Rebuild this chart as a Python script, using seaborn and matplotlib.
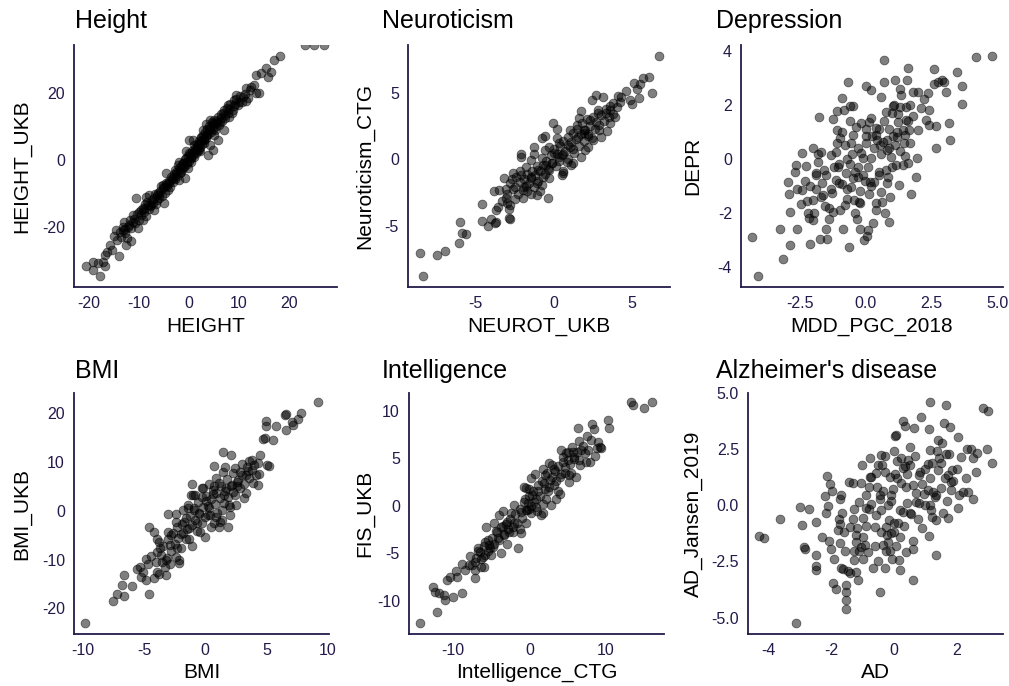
import numpy as np
import pandas as pd
import seaborn as sns
import matplotlib.pyplot as plt
from matplotlib.ticker import FormatStrFormatter

sns.set_style("white")
plt.rcParams['font.family'] = ['Liberation Sans', 'DejaVu Sans']
plt.rcParams['axes.unicode_minus'] = False

# titles and axis labels, panel order: row by row
titles = ["Height", "Neuroticism", "Depression", "BMI", "Intelligence", "Alzheimer's disease"]
x_labels = ["HEIGHT", "NEUROT_UKB", "MDD_PGC_2018", "BMI", "Intelligence_CTG", "AD"]
y_labels = ["HEIGHT_UKB", "Neuroticism_CTG", "DEPR", "BMI_UKB", "FIS_UKB", "AD_Jansen_2019"]

x_ticks = [[-20, -10, 0, 10, 20], [-5, 0, 5], [-2.5, 0, 2.5, 5], [-10, -5, 0, 5, 10], [-10, 0, 10], [-4, -2, 0, 2]]
y_ticks = [[-20, 0, 20], [-5, 0, 5], [-4, -2, 0, 2, 4], [-20, -10, 0, 10, 20], [-10, -5, 0, 5, 10], [-5, -2.5, 0, 2.5, 5]]
x_lims = [(-23.0, 29.6), (-9.34, 7.42), (-4.74, 5.22), (-10.7, 10.1), (-15.8, 17.65), (-4.65, 3.47)]
y_lims = [(-37.9, 34.3), (-9.58, 8.57), (-4.73, 4.21), (-25.3, 24.2), (-13.5, 11.86), (-5.73, 5.0)]

# scatter points (x, y)
height_pts = [
    (-20.7, -31.6), (-19.2, -30.3), (-19.1, -32.8), (-17.7, -34.6), (-18.2, -30.8), (-17.2, -30.3),
    (-16.9, -31.6), (-16.7, -28.4), (-15.3, -26.9), (-14.0, -28.7), (-14.9, -22.7), (-14.5, -20.9),
    (-13.5, -22.9), (-12.9, -18.4), (-12.5, -25.4), (-11.5, -24.1), (-13.2, -19.9), (-12.2, -19.9),
    (-11.2, -16.4), (-10.2, -20.4), (-10.5, -11.4), (-9.9, -15.4), (-9.2, -17.9), (-8.9, -15.4),
    (-8.5, -10.9), (-7.9, -10.4), (-7.5, -13.4), (-6.9, -14.9), (-6.4, -11.9), (-5.9, -10.4),
    (-5.5, -7.9), (-4.9, -12.9), (-5.2, -7.5), (-4.5, -4.0), (-4.2, -8.9), (-3.9, -7.0),
    (-3.2, -5.5), (-2.7, -3.0), (-2.2, -1.5), (-1.9, -0.5), (-1.5, -3.5), (-1.2, -1.0),
    (-0.7, -5.5), (-0.5, 0.5), (-0.2, -2.5), (0.1, 2.0), (0.5, -0.5), (1.1, 1.0),
    (0.0, 6.0), (0.8, 6.0), (1.8, 4.5), (2.1, 3.0), (2.5, 6.5), (2.8, 9.0),
    (3.1, 5.0), (3.8, 1.5), (4.2, 4.5), (4.8, 3.0), (5.0, 7.5), (4.2, 12.0),
    (4.8, 11.0), (5.5, 10.0), (5.8, 6.0), (6.5, 12.4), (7.1, 9.0), (6.8, 13.9),
    (7.8, 16.4), (8.1, 12.9), (8.8, 14.9), (9.1, 17.9), (9.5, 19.4), (10.1, 17.4),
    (10.8, 18.9), (11.5, 17.7), (11.5, 21.4), (12.5, 21.9), (13.1, 22.4), (13.5, 19.9),
    (14.1, 20.1), (13.5, 25.4), (14.5, 25.9), (15.5, 27.4), (15.8, 24.9), (16.5, 26.1),
    (17.1, 29.9), (18.3, 31.0), (23.3, 34.3), (25.1, 34.3), (27.1, 34.3),
    (-13.8, -21.5), (-13.2, -20.8), (-12.8, -21.9), (-12.1, -19.5), (-11.8, -18.0), (-11.5, -20.2),
    (-11.0, -17.5), (-10.8, -18.9), (-10.4, -16.2), (-10.1, -17.8), (-9.7, -15.0), (-9.5, -16.5),
    (-9.2, -14.2), (-8.8, -13.1), (-8.6, -16.8), (-8.3, -12.5), (-8.0, -14.6), (-7.7, -13.6),
    (-7.4, -11.8), (-7.2, -12.9), (-6.8, -10.2), (-6.6, -13.0), (-6.2, -9.8), (-6.0, -11.4),
    (-5.7, -9.2), (-5.4, -10.8), (-5.1, -8.5), (-4.8, -9.9), (-4.6, -6.8), (-4.3, -7.7),
    (-4.0, -6.2), (-3.7, -8.1), (-3.5, -5.0), (-3.2, -6.7), (-3.0, -4.2), (-2.8, -5.8),
    (-2.5, -3.5), (-2.3, -4.8), (-2.0, -2.5), (-1.8, -3.9), (-1.6, -1.9), (-1.3, -2.8),
    (-1.1, -0.9), (-0.9, -2.2), (-0.7, 0.3), (-0.4, -1.3), (-0.2, 1.2), (0.0, -0.4),
    (0.3, 1.9), (0.5, 0.6), (0.7, 2.8), (0.9, 1.5), (1.2, 3.6), (1.4, 2.2),
    (1.6, 4.9), (1.8, 3.1), (2.0, 5.6), (2.2, 4.0), (2.4, 6.8), (2.6, 4.9),
    (2.9, 7.4), (3.1, 5.9), (3.3, 8.3), (3.5, 6.6), (3.7, 9.1), (3.9, 7.6),
    (4.1, 10.0), (4.4, 8.4), (4.6, 11.2), (4.9, 9.2), (5.1, 12.0), (5.3, 8.9),
    (5.6, 11.0), (5.9, 12.9), (6.1, 10.5), (6.4, 13.8), (6.7, 11.7), (7.0, 14.8),
    (7.3, 12.6), (7.6, 15.5), (7.9, 14.0), (8.3, 16.6), (8.6, 14.1), (9.0, 16.0),
    (9.4, 18.2), (9.8, 16.4), (10.3, 19.0), (10.7, 17.2), (11.2, 19.6), (11.8, 18.6),
    (12.2, 20.8), (-14.3, -24.0), (-15.8, -25.4), (-16.3, -27.6), (-12.4, -23.3), (1.0, 4.5),
    (2.3, 2.6), (-0.5, 2.8), (3.5, 10.6), (-2.0, -6.0),
    (-9.0, -14.5), (-8.2, -13.4), (-7.0, -11.3), (-6.3, -10.6), (-5.0, -8.0), (-4.4, -7.2),
    (-3.4, -5.8), (-2.6, -4.1), (-1.7, -2.9), (-1.0, -1.8), (-0.3, -0.7), (0.4, 0.9),
    (1.1, 2.3), (1.7, 3.7), (2.3, 5.2), (3.0, 6.2), (3.6, 7.8), (4.3, 9.6),
    (5.0, 10.6), (5.7, 11.5), (6.3, 11.4), (7.2, 13.5), (8.0, 15.2), (9.2, 16.8),
    (-11.2, -18.6), (-12.7, -20.6), (2.7, 6.0), (3.4, 7.1), (4.0, 8.9), (1.4, 3.3),
]

neurot_pts = [
    (-8.4, -8.75), (-8.6, -7.05), (-7.5, -7.2), (-7.0, -6.85), (-6.1, -6.3), (-6.0, -4.7),
    (-5.9, -5.5), (-5.6, -5.6), (-4.6, -3.35), (-4.6, -4.6), (-4.2, -5.0), (-4.0, -4.5),
    (-3.8, -4.8), (-3.7, -4.7), (-3.7, -3.8), (-3.6, -3.55), (-3.85, -2.4), (-3.2, -1.4),
    (-3.1, -2.2), (-3.1, -2.9), (-3.0, -3.3), (-2.9, -3.7), (-2.9, -4.4), (-2.8, -4.5),
    (-2.8, -1.8), (-2.6, -1.05), (-2.5, -2.05), (-2.4, -1.3), (-2.2, -0.9), (-2.1, 0.4),
    (-2.1, 0.2), (-2.0, -2.9), (-1.95, -2.05), (-1.75, -2.4), (-1.5, -1.3), (-1.5, -0.05),
    (-1.3, 0.4), (-1.25, 0.9), (-1.1, -2.7), (-1.1, -1.8), (-1.0, -0.8), (-0.8, 1.6),
    (-0.6, 1.75), (-0.8, 0.1), (-0.7, -1.3), (-0.5, -0.4), (-0.4, -2.9), (-0.3, -0.8),
    (-0.15, -0.3), (-0.05, 2.7), (0.0, 0.45), (0.2, 2.25), (0.3, 1.2), (0.3, 0.2),
    (0.5, -1.2), (0.6, -1.05), (0.6, 0.4), (0.9, 1.1), (1.0, 2.2), (1.1, -0.4),
    (1.2, 0.8), (1.45, 2.6), (1.55, 1.65), (1.7, 3.6), (1.75, 0.2), (1.9, 2.2),
    (2.0, 0.7), (2.15, 1.75), (2.3, 2.95), (2.4, 4.45), (2.5, 1.45), (2.7, 4.8),
    (2.8, 3.7), (2.9, 2.2), (3.0, 1.7), (3.15, 4.7), (3.3, 3.45), (3.4, 2.1),
    (3.6, 2.7), (3.6, 3.7), (3.8, 4.2), (3.9, 3.15), (4.1, 4.75), (4.3, 4.7),
    (4.6, 5.15), (4.85, 4.45), (5.0, 4.15), (5.1, 5.75), (5.3, 5.25), (5.45, 4.6),
    (5.5, 5.65), (5.7, 6.1), (6.1, 6.15), (6.3, 5.0), (6.7, 7.75),
    (-3.3, -3.1), (-3.0, -2.6), (-2.8, -3.4), (-2.6, -2.2), (-2.5, -3.0), (-2.3, -2.6),
    (-2.2, -1.7), (-2.0, -2.3), (-1.9, -1.5), (-1.8, -2.0), (-1.7, -1.1), (-1.6, -1.8),
    (-1.5, -1.4), (-1.4, -0.9), (-1.3, -2.1), (-1.2, -1.2), (-1.1, -0.5), (-1.0, -1.6),
    (-0.9, -0.9), (-0.8, -1.9), (-0.7, -0.4), (-0.6, -1.1), (-0.5, -0.1), (-0.4, -0.7),
    (-0.3, -1.4), (-0.2, 0.3), (-0.1, -0.3), (0.0, 0.8), (0.1, -0.5), (0.2, 0.4),
    (0.3, -0.1), (0.4, 1.0), (0.5, 0.3), (0.6, 1.4), (0.7, 0.6), (0.8, -0.2),
    (0.9, 1.7), (1.0, 0.9), (1.1, 1.3), (1.2, 2.0), (1.3, 0.5), (1.4, 1.5),
    (1.5, 2.3), (1.6, 1.0), (1.7, 1.9), (1.8, 2.7), (1.9, 1.4), (2.0, 2.2),
    (2.1, 3.0), (2.2, 1.9), (2.3, 2.5), (2.4, 1.6), (2.5, 3.2), (2.6, 2.3),
    (2.7, 2.8), (2.8, 3.5), (2.9, 2.6), (3.0, 3.3), (3.2, 2.9), (3.3, 3.8),
    (3.5, 3.2), (3.6, 4.0), (3.8, 3.4), (4.0, 3.9), (4.2, 4.3), (-1.5, -2.6),
    (-0.9, -2.4), (-2.1, -1.2), (0.6, -0.9), (1.2, -0.3), (-0.3, 0.9), (0.2, 1.6),
    (-1.8, -0.6), (2.2, 0.9), (1.6, 3.1), (-2.7, -1.5), (-3.5, -2.3), (-0.6, 0.7),
    (0.9, 0.0), (1.9, 2.0),
]

depr_pts = [
    (-4.31, -2.9), (-4.1, -4.33), (-3.24, -2.58), (-3.14, -3.69), (-2.96, -0.86), (-2.93, -1.3),
    (-2.89, -1.95), (-2.89, -3.19), (-2.66, -0.22), (-2.63, -2.6), (-2.47, -1.67), (-2.44, 0.21),
    (-2.44, -1.15), (-2.28, -0.26), (-2.22, -1.54), (-2.16, -2.17), (-2.1, -3.15), (-2.0, 0.4),
    (-2.0, -2.24), (-1.97, -1.99), (-1.9, -1.12), (-1.9, -0.53), (-1.81, -0.1), (-1.78, 1.54),
    (-1.74, -2.94), (-1.71, 0.27), (-1.65, -0.88), (-1.61, -1.33), (-1.56, -1.74), (-1.46, -2.94),
    (-1.4, -1.83), (-1.33, 0.15), (-1.27, -1.25), (-1.23, 1.47), (-1.23, -1.95), (-1.14, 0.27),
    (-1.14, -0.78), (-1.1, 1.79), (-1.08, 1.07), (-1.05, -0.28), (-0.98, 0.77), (-0.98, -1.89),
    (-0.89, 2.25), (-0.89, -0.93), (-0.85, -2.57), (-0.82, 1.82), (-0.8, 0.52), (-0.76, -0.53),
    (-0.7, -1.49), (-0.7, -0.01), (-0.66, 2.86), (-0.63, -3.25), (-0.6, 1.94), (-0.57, 0.6),
    (-0.55, -1.02), (-0.51, 0.19), (-0.47, 1.96), (-0.44, -1.52), (-0.42, -0.47), (-0.38, 1.17),
    (-0.34, -2.23), (-0.29, -0.65), (-0.25, -1.58), (-0.22, -1.64), (-0.19, 0.21), (-0.19, 1.32),
    (-0.09, 0.02), (-0.06, -3.0), (-0.04, -0.8), (0.0, 2.7), (0.03, 0.83), (0.06, -2.85),
    (0.09, -2.63), (0.13, 1.38), (0.13, -1.3), (0.16, -0.84), (0.19, 2.53), (0.22, 0.02),
    (0.25, 0.85), (0.29, -2.36), (0.32, -0.84), (0.38, 1.14), (0.38, -1.64), (0.44, 0.7),
    (0.51, -0.47), (0.55, 0.52), (0.57, -1.21), (0.63, -1.58), (0.67, 0.64), (0.7, 3.67),
    (0.7, 2.86), (0.72, -1.99), (0.76, 1.72), (0.76, -0.41), (0.8, 0.33), (0.85, -0.65),
    (0.89, -2.32), (0.93, -1.4), (0.95, 0.09), (1.02, 0.85), (1.05, 1.96), (1.08, 2.0),
    (1.12, 2.9), (1.14, -0.22), (1.18, 0.8), (1.21, 1.67), (1.24, 1.38), (1.27, -0.96),
    (1.31, 1.91), (1.33, 2.37), (1.4, 1.07), (1.4, -0.22), (1.46, 0.58), (1.48, 0.11),
    (1.52, 1.44), (1.52, 1.91), (1.56, 2.9), (1.59, 3.36), (1.61, -0.16), (1.65, 1.07),
    (1.69, 2.0), (1.71, -1.3), (1.78, 2.49), (1.9, -0.65), (1.94, 0.02), (1.97, 2.46),
    (1.99, 1.07), (2.28, 1.44), (2.35, 2.43), (2.41, 1.81), (2.41, 1.26), (2.58, 3.32),
    (2.58, 2.78), (2.66, 0.4), (2.66, 1.2), (2.73, 2.86), (2.92, 2.93), (2.98, 2.86),
    (3.05, 2.49), (3.17, 1.32), (3.21, 0.7), (3.49, 3.2), (3.65, 2.04), (3.68, 2.68),
    (4.19, 3.77), (4.82, 3.81),
    (-1.5, -0.6), (-1.0, -0.9), (-0.6, -0.2), (-0.3, 0.4), (0.1, -0.3), (0.4, 0.9),
    (0.6, 0.2), (0.9, 1.1), (1.1, 0.5), (1.3, 0.3), (-1.7, -1.4), (-0.8, -1.7),
    (-0.2, -1.2), (0.5, -0.6), (0.2, 1.5), (-1.2, -0.3), (-2.3, -0.8), (-1.9, -0.6),
    (-0.4, -2.0), (0.8, -0.9), (1.7, 0.6), (2.1, 1.9), (-0.9, 1.0), (-1.4, -2.2),
    (0.0, 0.6), (0.7, 1.4), (-0.5, 0.9), (1.0, 1.7), (-2.6, -1.1), (-1.8, 0.2),
    (-2.1, -1.0), (-1.6, -0.4), (-1.3, -1.1), (-1.0, -0.2), (-0.7, -1.1), (-0.5, -0.7),
    (-0.1, -0.6), (0.3, 0.4), (0.5, 1.1), (0.8, 0.7), (1.0, -0.3), (1.2, 1.0),
    (1.5, 0.9), (1.8, 1.6), (0.0, 1.1), (-0.3, -0.3), (-2.2, -2.0), (-1.5, -2.6),
    (-0.2, -2.6), (0.4, -1.9), (-2.7, -0.5), (-1.1, 0.6), (0.6, 2.3), (1.3, 2.6),
    (2.2, 2.2), (-0.6, 1.4), (-2.0, -1.5), (0.2, -1.0), (1.6, 1.4), (0.9, 0.4),
]

bmi_pts = [
    (-9.8, -23.0), (-7.55, -18.6), (-7.2, -17.0), (-6.65, -17.5), (-6.6, -13.2), (-6.8, -15.3),
    (-6.0, -15.5), (-4.6, -17.1), (-5.3, -11.6), (-5.1, -12.5), (-4.85, -9.8), (-4.8, -14.2),
    (-4.6, -3.3), (-4.2, -4.3), (-4.15, -13.8), (-3.95, -5.7), (-3.9, -8.4), (-3.75, -12.9),
    (-3.7, -7.6), (-3.5, -10.5), (-3.3, -11.5), (-3.2, -13.2), (-3.1, -9.7), (-3.05, -4.3),
    (-3.0, -0.75), (-2.9, -7.1), (-2.8, -5.0), (-2.4, -0.75), (-2.4, -2.3), (-2.3, -7.7),
    (-2.15, -10.8), (-2.1, -10.1), (-1.95, -4.7), (-1.8, 0.15), (-1.7, -2.3), (-1.6, -5.7),
    (-1.4, 1.15), (-1.3, -3.6), (-1.15, 3.2), (-1.05, 5.6), (-1.05, -7.2), (-0.95, 0.15),
    (-0.8, 3.2), (-0.7, -2.6), (-0.5, -0.5), (-0.4, -4.3), (-0.3, 4.6), (-0.25, 2.9),
    (-0.2, 4.6), (-0.05, -5.3), (0.1, 2.0), (0.2, -0.9), (0.35, 0.5), (0.5, -3.3),
    (0.6, 3.4), (0.7, 5.1), (0.75, 9.2), (0.85, -1.2), (0.9, 6.8), (1.1, -3.3),
    (1.15, 5.8), (1.2, -2.3), (1.4, 0.15), (1.45, 8.0), (1.45, 12.0), (1.5, 3.2),
    (1.65, 9.0), (1.7, 4.6), (1.85, -3.3), (1.95, 1.15), (2.05, -0.9), (2.1, 11.4),
    (2.2, 5.4), (2.25, 3.9), (2.4, 8.8), (2.55, 1.15), (2.6, 5.1), (2.65, 6.3),
    (2.8, 8.0), (3.0, 9.7), (3.2, 2.7), (3.3, 7.3), (3.5, 8.2), (3.6, 10.2),
    (3.85, 10.4), (3.9, 5.8), (4.0, 9.4), (4.15, 7.3), (4.3, 5.4), (4.4, 7.5),
    (4.5, 11.4), (4.7, 14.7), (4.85, 15.0), (4.95, 17.5), (5.0, 18.4), (5.05, 9.4),
    (5.2, 9.2), (5.5, 14.5), (5.8, 17.5), (6.5, 19.7), (6.6, 19.8), (6.6, 16.6),
    (7.1, 18.2), (7.2, 17.6), (7.6, 18.8), (7.85, 20.0), (9.2, 22.3),
    (-4.4, -9.2), (-4.0, -10.6), (-3.8, -6.5), (-3.6, -9.0), (-3.4, -7.2), (-3.2, -10.0),
    (-3.0, -5.8), (-2.8, -8.2), (-2.6, -4.6), (-2.5, -6.8), (-2.3, -3.4), (-2.2, -5.6),
    (-2.0, -7.6), (-1.9, -2.8), (-1.8, -4.5), (-1.6, -1.5), (-1.5, -3.8), (-1.3, -5.8),
    (-1.2, -1.0), (-1.1, -2.9), (-0.9, 0.6), (-0.8, -1.8), (-0.7, -4.2), (-0.6, 1.9),
    (-0.5, -0.6), (-0.3, -2.4), (-0.2, 0.8), (0.0, -1.2), (0.1, 3.1), (0.2, 1.0),
    (0.4, -0.8), (0.5, 2.5), (0.6, 4.3), (0.8, 1.4), (0.9, 3.6), (1.0, -0.5),
    (1.2, 2.6), (1.3, 5.2), (1.5, 1.6), (1.6, 4.0), (1.8, 6.5), (1.9, 2.8),
    (2.1, 5.2), (2.3, 7.8), (2.4, 3.2), (2.6, 6.0), (2.8, 4.6), (3.0, 7.4),
    (3.2, 5.5), (3.4, 9.0), (3.6, 6.8), (3.8, 8.3), (-2.9, -11.0), (-3.9, -12.5),
    (-4.7, -11.0), (-5.2, -13.6), (-5.6, -12.0), (0.3, 5.6), (-1.0, 3.3), (1.4, -1.8),
    (-2.4, -9.4), (2.0, 0.8), (0.7, -2.6), (-1.4, 0.5), (4.3, 9.8), (3.3, 3.6),
]

intel_pts = [
    (-14.4, -12.3), (-12.15, -11.15), (-12.6, -8.6), (-12.4, -9.05), (-11.85, -9.2), (-11.2, -9.4),
    (-11.1, -9.9), (-10.0, -9.6), (-8.9, -9.2), (-10.75, -7.8), (-10.4, -7.5), (-9.65, -6.9),
    (-9.5, -7.5), (-8.8, -6.1), (-7.9, -6.25), (-7.6, -6.25), (-7.2, -7.65), (-7.2, -6.8),
    (-7.0, -5.5), (-6.8, -4.5), (-6.45, -4.9), (-6.15, -5.4), (-6.3, -6.4), (-5.8, -3.8),
    (-5.7, -2.2), (-5.5, -4.8), (-5.3, -4.1), (-5.05, -5.2), (-4.8, -4.3), (-4.6, -1.85),
    (-4.4, -2.65), (-4.15, -3.45), (-3.95, -1.0), (-3.75, -5.0), (-3.5, -0.55), (-3.5, -2.1),
    (-3.3, -3.1), (-2.95, -1.7), (-2.65, -2.75), (-2.4, -0.8), (-2.2, -2.2), (-2.0, -1.85),
    (-1.55, -4.5), (-1.3, -2.4), (-1.1, -0.65), (-0.75, 2.0), (-0.55, 0.75), (-0.45, -1.85),
    (-0.3, -0.45), (-0.15, 0.25), (0.0, 1.8), (0.15, 2.9), (0.2, -0.8), (0.3, 1.1),
    (0.55, 0.4), (0.9, -0.1), (1.1, 1.5), (1.55, -1.0), (1.75, -0.8), (1.75, 3.9),
    (1.9, 2.35), (2.05, 3.25), (2.2, 0.7), (2.4, 1.5), (2.65, 2.7), (2.85, 0.1),
    (2.95, 4.3), (3.2, 2.2), (3.3, 3.6), (3.5, 0.75), (3.7, 1.55), (3.95, 3.05),
    (4.1, 5.85), (4.4, 4.65), (4.6, 3.4), (4.8, 5.5), (5.05, 4.8), (5.15, 3.25),
    (5.25, 2.5), (5.5, 3.4), (5.7, 5.7), (5.9, 5.15), (6.15, 3.05), (6.35, 8.2),
    (6.45, 4.8), (6.45, 6.85), (6.8, 5.85), (7.25, 5.5), (7.45, 4.65), (7.6, 7.35),
    (7.7, 5.85), (7.9, 4.55), (8.1, 6.9), (8.2, 8.65), (8.45, 8.05), (8.55, 5.25),
    (8.8, 6.05), (9.0, 6.75), (9.2, 6.2), (9.45, 6.05), (10.3, 9.0), (10.5, 8.15),
    (13.3, 10.95), (13.6, 10.6), (15.0, 10.3), (16.1, 10.9),
    (-7.8, -5.3), (-7.2, -5.9), (-6.8, -4.8), (-6.4, -5.6), (-6.0, -4.2), (-5.8, -5.2),
    (-5.5, -3.6), (-5.2, -4.5), (-4.9, -3.4), (-4.6, -4.0), (-4.3, -2.8), (-4.0, -3.6),
    (-3.7, -2.2), (-3.4, -3.0), (-3.1, -1.9), (-2.8, -2.5), (-2.5, -1.4), (-2.2, -2.8),
    (-1.9, -0.9), (-1.6, -1.8), (-1.3, -0.3), (-1.0, -1.3), (-0.7, 0.4), (-0.4, -0.5),
    (-0.1, 1.0), (0.2, 0.0), (0.5, 1.5), (0.8, 0.7), (1.1, 2.2), (1.4, 1.0),
    (1.7, 2.6), (2.0, 1.8), (2.3, 3.4), (2.6, 2.0), (2.9, 3.0), (3.2, 3.9),
    (3.5, 2.6), (3.8, 4.2), (4.1, 3.3), (4.4, 5.1), (4.7, 4.1), (5.0, 5.6),
    (5.3, 4.4), (5.6, 6.2), (5.9, 4.9), (6.2, 5.6), (6.6, 4.3), (7.0, 6.3),
    (0.0, -0.3), (-0.5, 1.9), (1.0, -0.6), (-2.0, 0.1), (-3.0, -4.0), (2.5, 4.5),
    (0.7, 3.3), (-1.1, -2.9), (-6.0, -6.4), (-8.4, -6.8), (4.0, 1.2), (1.8, 0.2),
]

ad_pts = [
    (-4.29, -1.35), (-4.15, -1.45), (-3.62, -0.6), (-3.12, -5.22), (-3.01, -0.06), (-2.93, -0.88),
    (-2.88, -1.84), (-2.85, -1.94), (-2.71, -0.16), (-2.5, -0.73), (-2.48, -2.23), (-2.5, -2.72),
    (-2.5, -2.87), (-2.18, -0.36), (-2.13, 1.32), (-2.1, -0.01), (-2.07, -1.6), (-2.03, 0.94),
    (-2.0, -1.94), (-1.97, 0.64), (-1.95, -3.47), (-1.84, -3.72), (-1.79, -1.09), (-1.76, -0.6),
    (-1.73, 0.3), (-1.73, -1.7), (-1.71, -0.84), (-1.68, -2.8), (-1.68, 0.45), (-1.65, -0.36),
    (-1.61, -2.83), (-1.57, -2.03), (-1.52, -3.57), (-1.52, -3.84), (-1.52, -4.21), (-1.54, -4.62),
    (-1.47, -2.92), (-1.44, 1.03), (-1.41, -0.96), (-1.31, 1.0), (-1.29, -2.43), (-1.29, -2.03),
    (-1.26, -0.15), (-1.22, -1.33), (-1.2, -1.63), (-1.2, -2.96), (-1.18, -1.03), (-1.15, -3.33),
    (-1.12, -2.03), (-1.1, 0.15), (-1.04, -1.84), (-1.04, 1.0), (-1.01, 1.81), (-0.99, -2.37),
    (-0.99, -0.55), (-0.94, -1.77), (-0.9, -0.9), (-0.88, 0.45), (-0.83, -2.06), (-0.8, -0.15),
    (-0.76, 2.11), (-0.76, 1.24), (-0.72, 1.28), (-0.72, 0.06), (-0.67, -2.77), (-0.62, -0.96),
    (-0.59, -0.45), (-0.56, 1.43), (-0.54, 0.83), (-0.51, 1.81), (-0.46, 0.45), (-0.46, 0.3),
    (-0.44, -3.84), (-0.4, 2.25), (-0.4, -0.21), (-0.4, -1.21), (-0.37, 1.78), (-0.35, 0.64),
    (-0.35, -1.77), (-0.3, 2.18), (-0.3, -2.77), (-0.27, -2.03), (-0.24, -0.96), (-0.22, -1.33),
    (-0.19, -1.63), (-0.19, 0.01), (-0.16, -0.66), (-0.12, 1.24), (-0.12, -2.03), (-0.09, -1.24),
    (-0.09, 0.45), (-0.05, -2.4), (-0.03, 0.72), (-0.01, -0.81), (0.0, 2.4), (0.02, 1.4),
    (0.02, 3.07), (0.07, 3.12), (0.07, -1.81), (0.1, 1.96), (0.13, -0.81), (0.16, -2.43),
    (0.18, -0.21), (0.2, -1.39), (0.23, 2.11), (0.23, 1.0), (0.27, 3.77), (0.29, 1.66),
    (0.31, -0.9), (0.34, 1.74), (0.34, 3.55), (0.37, 0.8), (0.39, -2.08), (0.41, 0.09),
    (0.45, 2.03), (0.5, 1.78), (0.52, -0.36), (0.55, -0.4), (0.59, -1.6), (0.61, -3.33),
    (0.61, -1.94), (0.63, 3.44), (0.66, 2.18), (0.69, 0.53), (0.71, 0.15), (0.77, -0.62),
    (0.8, 1.36), (0.82, 1.47), (0.87, 3.95), (0.9, 0.94), (0.95, 0.49), (0.98, 0.01),
    (1.09, 1.83), (1.09, 0.68), (1.12, 3.39), (1.12, -1.36), (1.14, 4.58), (1.14, 2.46),
    (1.14, 0.01), (1.16, 1.2), (1.19, -0.21), (1.22, 1.87), (1.24, 0.61), (1.3, 0.38),
    (1.33, 0.45), (1.33, -0.66), (1.35, -2.2), (1.37, 2.4), (1.4, 1.58), (1.44, 2.11),
    (1.48, 0.75), (1.54, 2.77), (1.56, -0.36), (1.59, 3.66), (1.62, 1.2), (1.65, 2.28),
    (1.67, 4.47), (1.72, 1.36), (1.72, -0.58), (1.76, 2.28), (1.78, 3.47), (1.8, 0.68),
    (1.83, 1.03), (1.86, 1.58), (1.88, 1.06), (2.04, 3.03), (2.04, -0.13), (2.07, 0.45),
    (2.12, 2.14), (2.2, 0.59), (2.31, 2.52), (2.36, 0.59), (2.44, 2.52), (2.5, 2.11),
    (2.5, 0.3), (2.63, 2.33), (2.82, 4.35), (2.97, 2.52), (3.0, 4.2), (3.11, 1.87),
    (-1.9, -2.4), (-1.6, -1.2), (-1.3, -0.6), (-1.0, -1.4), (-0.8, 0.8), (-0.6, -1.8),
    (-0.3, 1.5), (-0.1, 0.2), (0.1, 1.2), (0.3, -0.3), (0.4, 1.4), (0.6, 0.9),
    (0.8, 0.1), (1.0, 1.6), (1.2, -0.5), (1.5, 1.9), (1.7, 0.2), (2.0, 1.6),
    (2.3, 1.2), (-2.3, -1.4), (-0.5, -2.5), (0.2, -2.9), (0.9, -1.0), (1.4, 2.9),
    (-1.4, -3.0), (0.5, 2.6), (-0.9, -0.1), (2.6, 1.5), (-2.2, 0.4), (0.0, -1.2),
]

panels = [height_pts, neurot_pts, depr_pts, bmi_pts, intel_pts, ad_pts]

# layout in figure pixels (left, top, right, bottom) of each plot area
W, H = 1009, 686
boxes = [(74, 45, 337, 287), (408, 45, 670, 287), (741, 45, 1003, 287),
         (74, 393, 329, 634), (409, 393, 664, 634), (748, 393, 1003, 634)]
title_x = [75, 382, 716, 75, 382, 716]
title_y = [28, 28, 28, 378, 378, 378]
ylab_x = [22, 365, 693, 22, 365, 693]
navy = "#241a4a"

fig = plt.figure(figsize=(W / 100, H / 100), dpi=100)
for i, pts in enumerate(panels):
    l, t, r, b = boxes[i]
    ax = fig.add_axes([l / W, 1 - b / H, (r - l) / W, (b - t) / H])
    df = pd.DataFrame(pts, columns=["x", "y"])
    sns.scatterplot(data=df, x="x", y="y", ax=ax, color="black", alpha=0.5,
                    s=40, edgecolor="black", linewidth=0.6, legend=False)
    ax.set_xlim(*x_lims[i])
    ax.set_ylim(*y_lims[i])
    ax.set_xticks(x_ticks[i])
    ax.set_yticks(y_ticks[i])
    if i in (2, 5):
        ax.xaxis.set_major_formatter(FormatStrFormatter('%.1f') if i == 2 else FormatStrFormatter('%g'))
        ax.yaxis.set_major_formatter(FormatStrFormatter('%.1f') if i == 5 else FormatStrFormatter('%g'))
    for side in ("top", "right"):
        ax.spines[side].set_visible(False)
    for side in ("left", "bottom"):
        ax.spines[side].set_color(navy)
        ax.spines[side].set_linewidth(1.3)
    ax.tick_params(axis="both", direction="out", length=3.5, width=1, color=navy,
                   labelcolor=navy, labelsize=11.5, pad=3)
    ax.set_xlabel(x_labels[i], fontsize=15, color="black")
    ax.set_ylabel(y_labels[i], fontsize=15, color="black")
    ax.xaxis.label.set_va("center")
    ax.yaxis.label.set_va("center")
    xl_y = 326 if i < 3 else 672
    ax.xaxis.set_label_coords(0.5, (b - xl_y) / (b - t))
    ax.yaxis.set_label_coords((ylab_x[i] - l) / (r - l), 0.5)
    fig.text(title_x[i] / W, 1 - title_y[i] / H, titles[i], fontsize=18,
             color="black", ha="left", va="baseline")

fig.savefig("out.png", dpi=100)
plt.close(fig)
